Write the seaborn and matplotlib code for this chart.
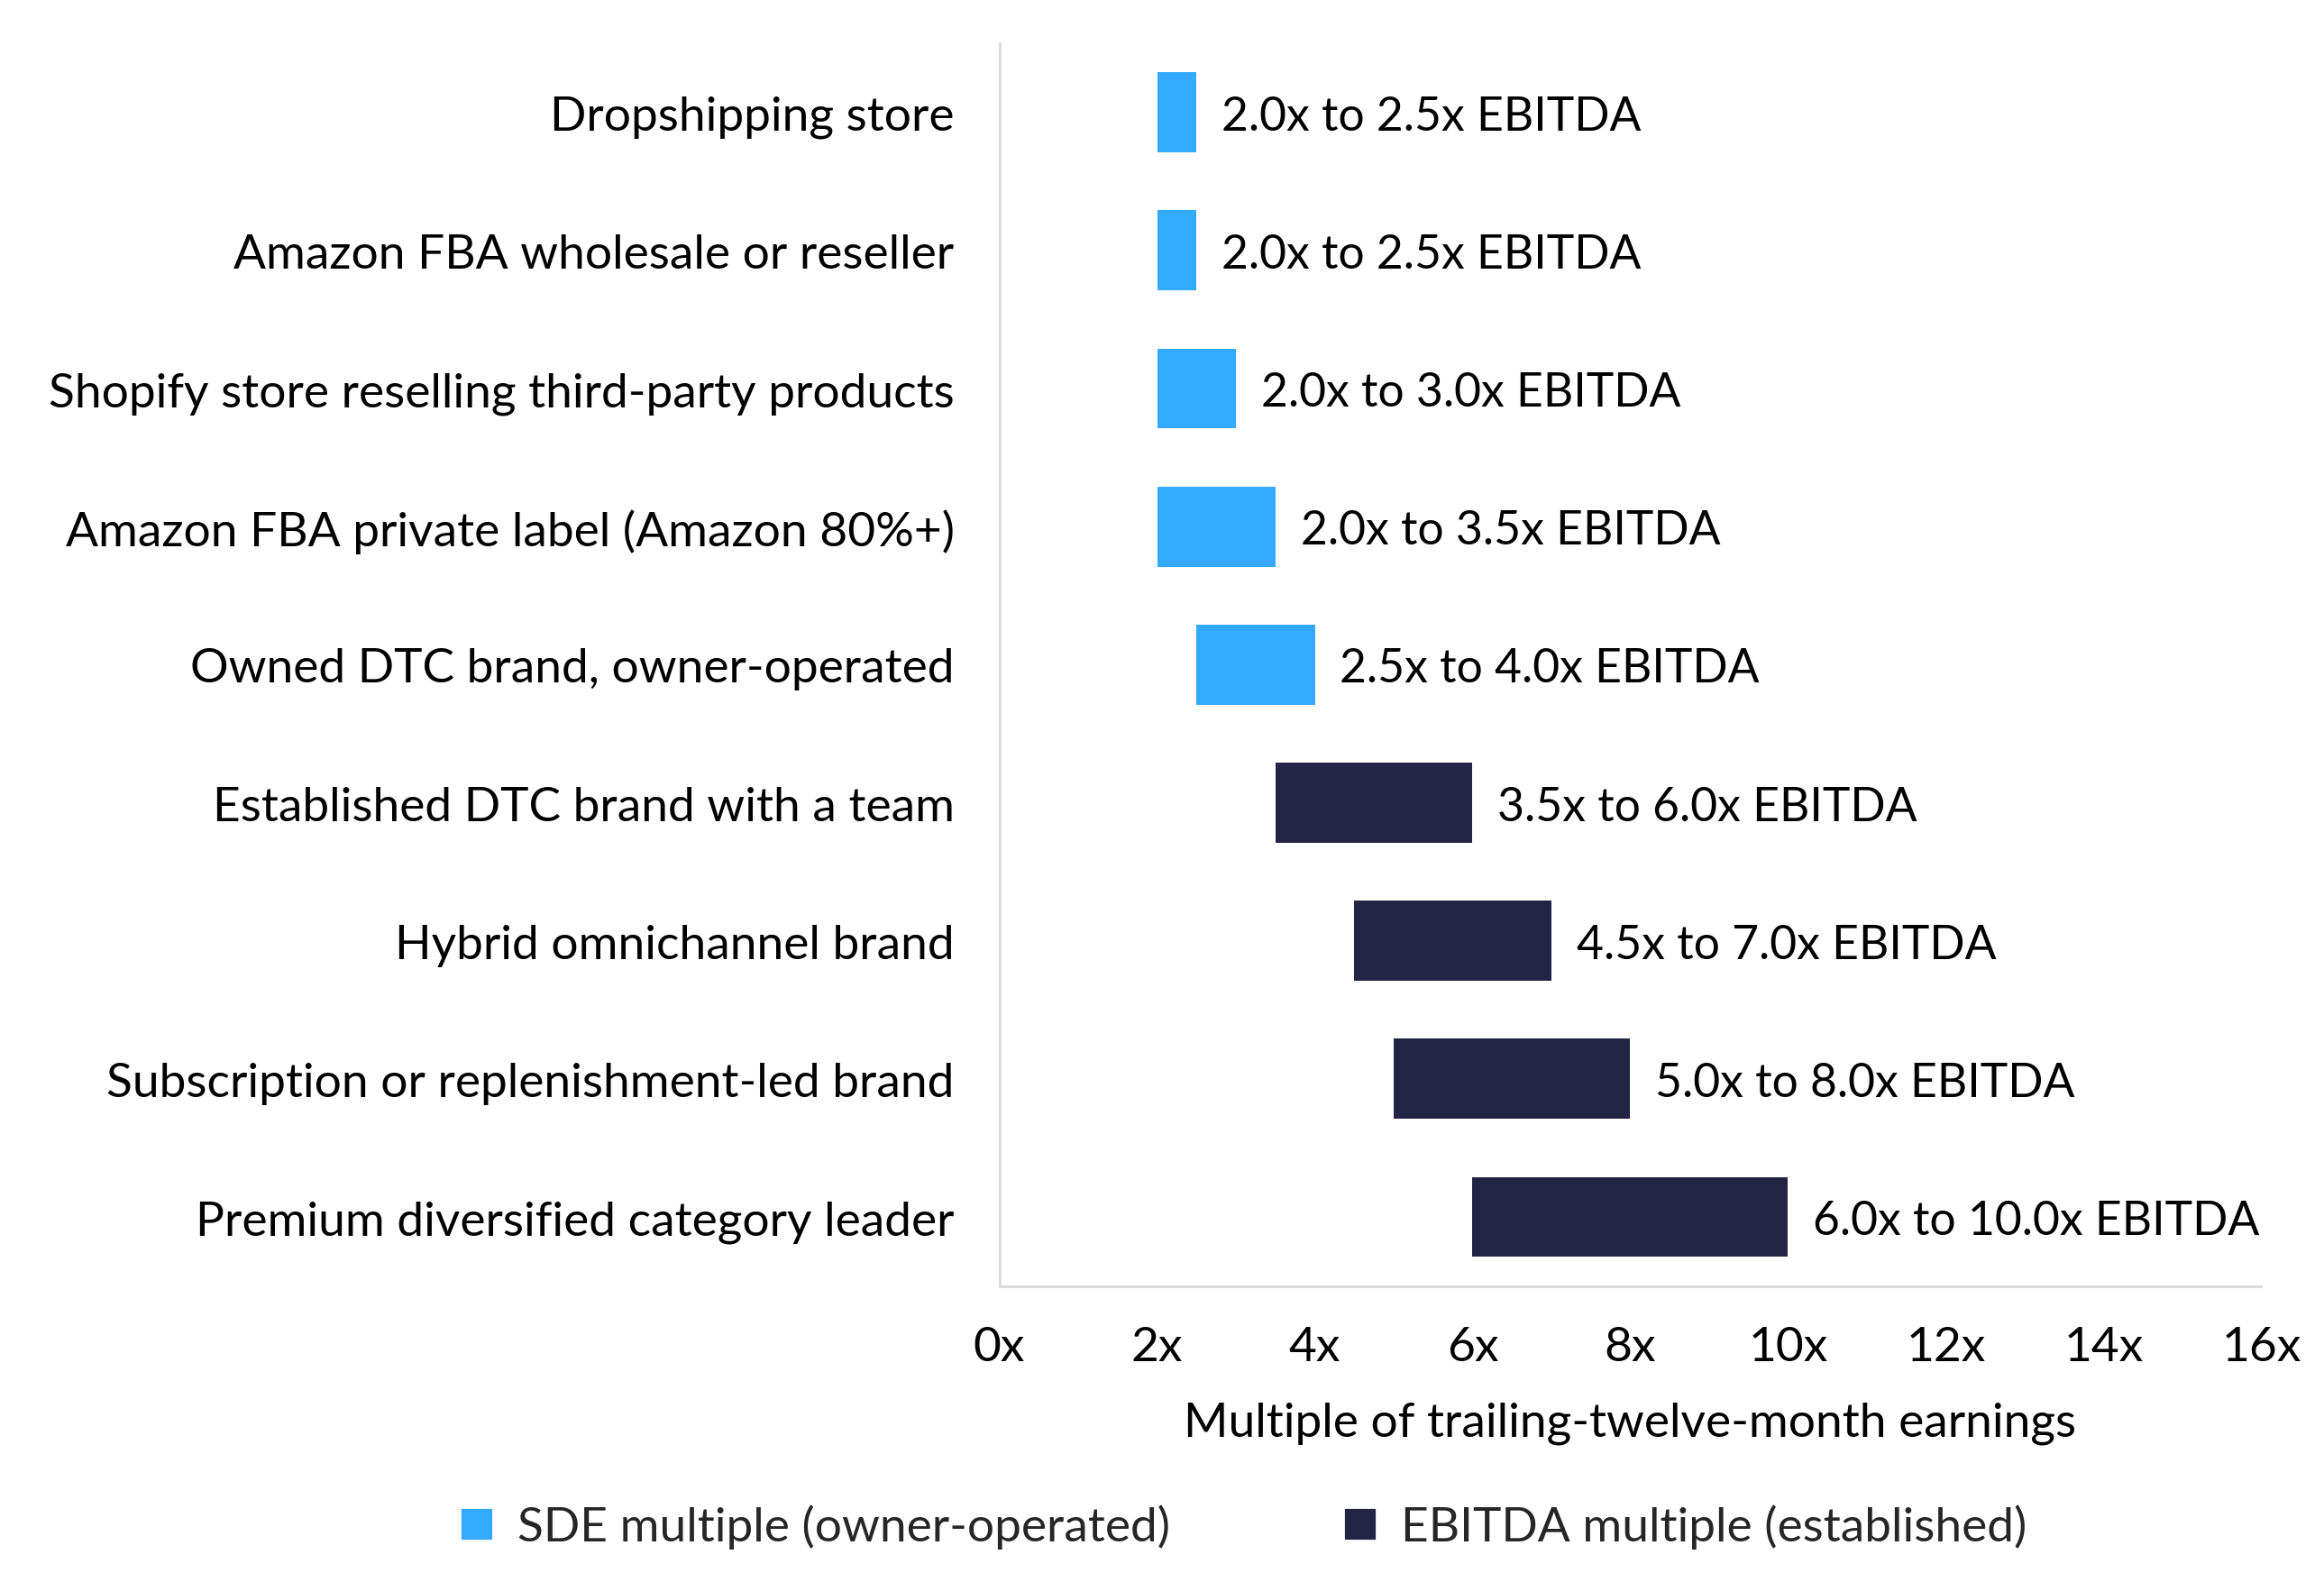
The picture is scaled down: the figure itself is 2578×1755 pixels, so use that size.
import numpy as np
import matplotlib.pyplot as plt
import seaborn as sns
from matplotlib.patches import Patch

# Dữ liệu: khoảng bội số định giá theo loại hình kinh doanh
categories = [
    'Dropshipping store',
    'Amazon FBA wholesale or reseller',
    'Shopify store reselling third-party products',
    'Amazon FBA private label (Amazon 80%+)',
    'Owned DTC brand, owner-operated',
    'Established DTC brand with a team',
    'Hybrid omnichannel brand',
    'Subscription or replenishment-led brand',
    'Premium diversified category leader',
]
low_multiple = [2.0, 2.0, 2.0, 2.0, 2.5, 3.5, 4.5, 5.0, 6.0]
high_multiple = [2.5, 2.5, 3.0, 3.5, 4.0, 6.0, 7.0, 8.0, 10.0]
multiple_type = ['SDE', 'SDE', 'SDE', 'SDE', 'SDE', 'EBITDA', 'EBITDA', 'EBITDA', 'EBITDA']
x_ticks = [0, 2, 4, 6, 8, 10, 12, 14, 16]

sns.set_theme(style='white')
plt.rcParams['font.family'] = ['Lato', 'DejaVu Sans']

colors = {'SDE': '#33AAFF', 'EBITDA': '#232346'}
legend_names = {'SDE': 'SDE multiple (owner-operated)',
                'EBITDA': 'EBITDA multiple (established)'}
fs = 19.2

fig, ax = plt.subplots(figsize=(12.89, 8.78), dpi=200)
fig.subplots_adjust(left=0.430, right=0.973, top=0.972, bottom=0.187)

y = np.arange(len(categories))
lo = np.array(low_multiple)
hi = np.array(high_multiple)
bar_colors = [colors[t] for t in multiple_type]
ax.barh(y, hi - lo, left=lo, height=0.58, color=bar_colors, linewidth=0)

# Nhãn giá trị bên phải mỗi thanh
for yi, a, b in zip(y, lo, hi):
    ax.annotate(f'{a:.1f}x to {b:.1f}x EBITDA', xy=(b, yi), xytext=(10, 0),
                textcoords='offset points', va='center_baseline', ha='left',
                fontsize=18.6, color='black')

ax.set_yticks(y)
ax.set_yticklabels(categories, fontsize=fs, color='black')
ax.set_ylim(len(categories) - 0.5, -0.5)
ax.set_xlim(0, 16)
ax.set_xticks(x_ticks)
ax.set_xticklabels([f'{t}x' for t in x_ticks], fontsize=fs, color='black')
ax.tick_params(axis='x', length=0, pad=16)
ax.tick_params(axis='y', length=0, pad=18)
ax.set_xlabel('Multiple of trailing-twelve-month earnings', fontsize=fs,
              color='black', labelpad=13)

sns.despine(ax=ax, top=True, right=True)
for side in ['left', 'bottom']:
    ax.spines[side].set_color('#D9D9D9')
    ax.spines[side].set_linewidth(1.0)
ax.grid(False)

handles = [Patch(facecolor=colors[k], label=legend_names[k]) for k in ['SDE', 'EBITDA']]
fig.legend(handles=handles, loc='center', bbox_to_anchor=(0.535, 0.035), ncol=2,
           frameon=False, fontsize=fs, handlelength=0.7, handleheight=0.7,
           handletextpad=0.5, columnspacing=3.6)

fig.savefig('out.png', dpi=200)
